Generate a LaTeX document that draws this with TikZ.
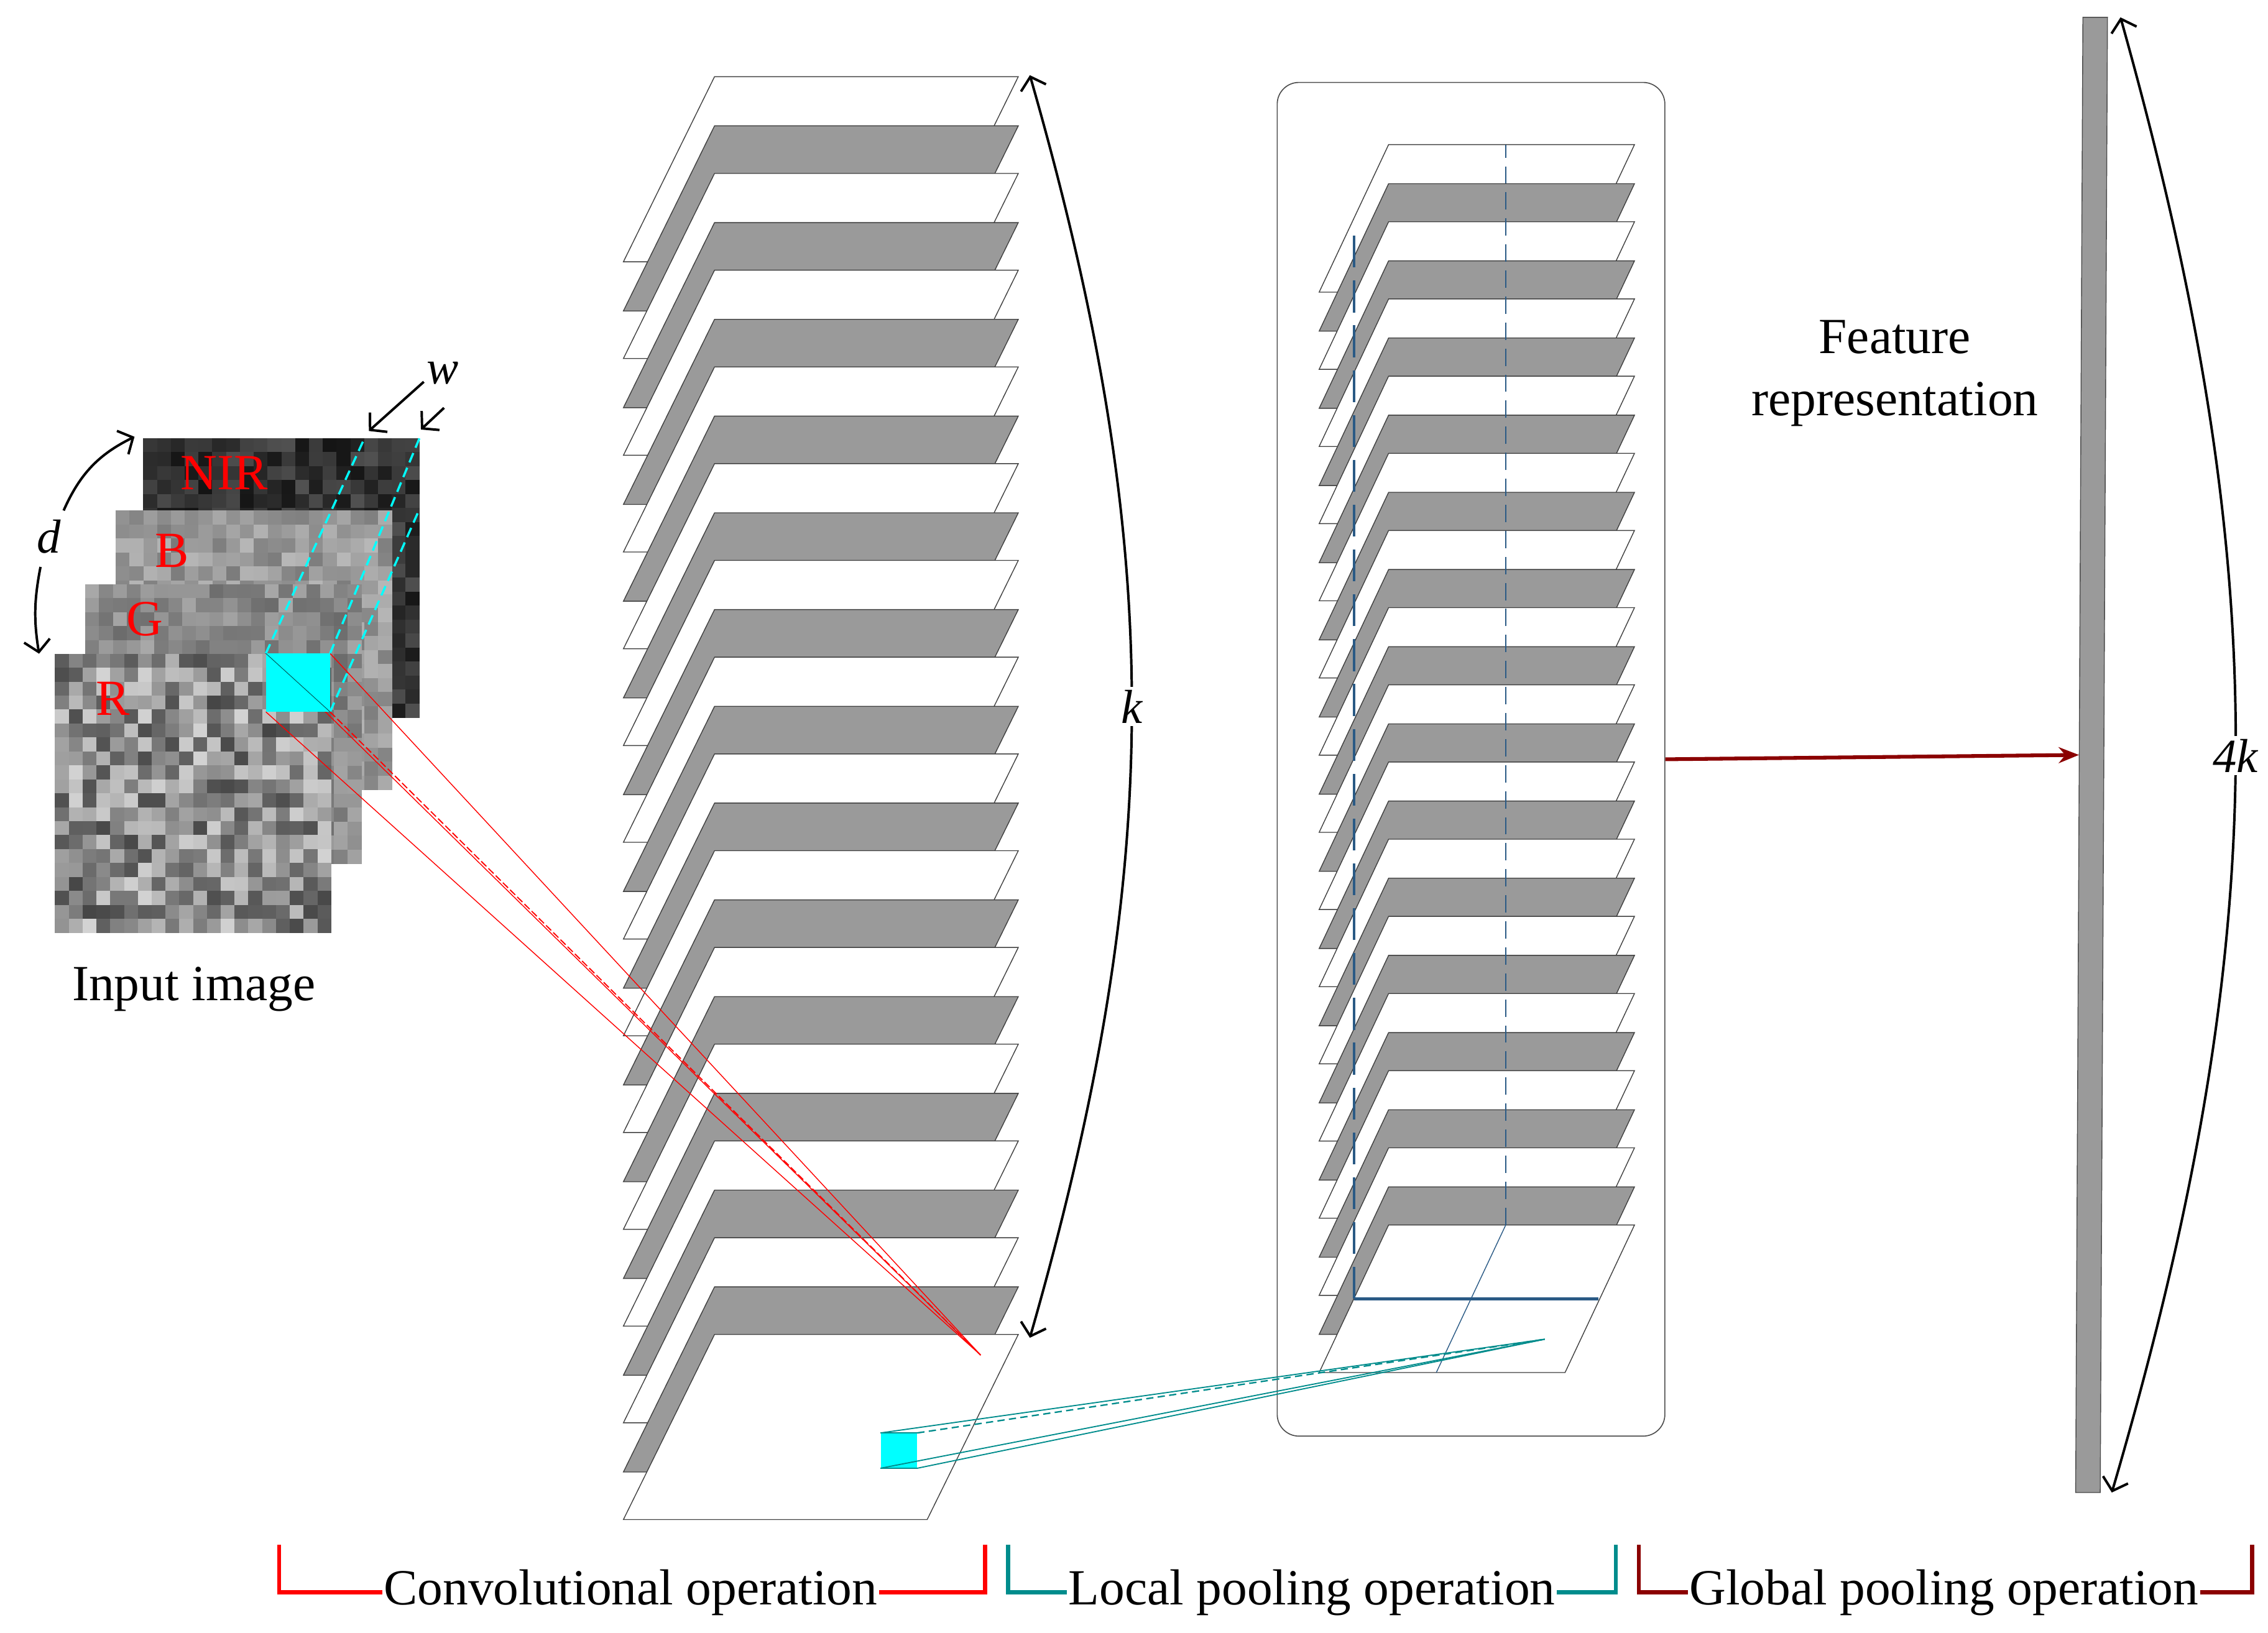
\documentclass[tikz,border=0pt]{standalone}
\usepackage{fontspec}
\setmainfont{Liberation Serif}
\usetikzlibrary{arrows.meta}
\definecolor{sheetgray}{HTML}{9A9A9A}
\definecolor{tealc}{HTML}{008C8C}
\definecolor{dred}{HTML}{8B0000}
\definecolor{pblue}{HTML}{2A5A85}
\definecolor{cy}{HTML}{00FFFF}
\begin{document}
\begin{tikzpicture}[x=1pt,y=-1pt,
  sheet/.style={draw=black!75,line width=0.6pt},
  lbl/.style={font=\fontsize{35}{43}\selectfont, inner sep=1pt},
  ilbl/.style={font=\fontsize{33}{35}\selectfont\itshape, inner sep=2pt, fill=white},
  dim/.style={black,line width=1.7pt,{Straight Barb[length=8pt,width=18pt]}-{Straight Barb[length=8pt,width=18pt]}},
  dimone/.style={black,line width=1.7pt,-{Straight Barb[length=8pt,width=18pt]}},
  brk/.style={line width=2.8pt}]
\useasboundingbox (0,0) rectangle (1568,1129);
% ---------- input image layers ----------
\pgfmathsetseed{7}
\foreach \X/\Y/\base/\amp in {99/303/80/12, 80/353/40/12, 59/404/46/12, 38/452/45/28}{
  \foreach \i in {0,...,19}{
    \foreach \j in {0,...,19}{
      \pgfmathsetmacro\v{max(3,min(95,\base+\amp*rand))}
      \fill[black!\v] (\X+\i*9.55,\Y+\j*9.65) rectangle +(9.8,9.9);
    }}}
\node[text=red,lbl] (nir) at (155,327) {NIR};
\node[text=red,lbl] (b) at (119,381) {B};
\node[text=red,lbl] (g) at (100,428) {G};
\node[text=red,lbl] (r) at (78,483) {R};
\node[lbl] (input) at (134,684) {Input image};
% cyan kernel
\node[fill=cy,minimum width=44pt,minimum height=40pt,inner sep=0pt] (cbox) at (206,472) {};
\coordinate (n1) at (252,303);
\coordinate (n2) at (290,303);
\coordinate (n3) at (290,352);
\draw[cy,line width=1.5pt,dash pattern=on 7pt off 4pt] (cbox.north west) -- (n1);
\draw[cy,line width=1.5pt,dash pattern=on 7pt off 4pt] (cbox.north east) -- (n2);
\draw[cy,line width=1.5pt,dash pattern=on 7pt off 4pt] (cbox.south east) -- (n3);
% d and w arrows
\node[ilbl,fill=none] (d) at (34,371) {d};
\coordinate (d1) at (93,302);
\coordinate (d2) at (27,452);
\draw[dimone] (44,353) to[bend left=20] (d1);
\draw[dimone] (28,392) to[bend right=10] (d2);
\node[ilbl,fill=none] (w) at (306,258) {w};
\coordinate (w1) at (255,298);
\coordinate (w2) at (291,297);
\draw[dimone] (293,264) -- (w1);
\draw[dimone] (307,282) -- (w2);
% ---------- convolution stack ----------
\foreach \i in {0,...,26}{
  \pgfmathtruncatemacro\p{int(\i/2)}
  \pgfmathtruncatemacro\od{mod(\i,2)}
  \pgfmathsetmacro\yt{53+\p*66.9+\od*34}
  \ifnum\od=1 \def\fc{sheetgray}\else\def\fc{white}\fi
  \filldraw[sheet,fill=\fc] (494,\yt) -- (704,\yt) -- (641,\yt+128) -- (431,\yt+128) -- cycle;
}
\coordinate (rt) at (678,937);
\draw[red,line width=0.6pt] (cbox.north west) -- (rt);
\draw[red,line width=0.6pt] (cbox.north east) -- (rt);
\draw[red,line width=0.6pt] (cbox.south west) -- (rt);
\draw[red,line width=0.8pt,dash pattern=on 5pt off 2pt] (cbox.south east) -- (rt);
\fill[cy] (cbox.north west) rectangle (cbox.south east);
\draw[tealc!60!black,line width=0.4pt] (cbox.north west) -- (cbox.south east);
% k arrow
\coordinate (k1) at (712,52);
\coordinate (k2) at (712,925);
\draw[dim] (k1) to[bend left=16] node[ilbl] (k) {k} (k2);
% ---------- local pooling ----------
\node[draw=black!70,line width=0.7pt,rounded corners=15pt,minimum width=268pt,minimum height=936pt,inner sep=0pt] (pool) at (1017,525) {};
\foreach \i in {0,...,28}{
  \pgfmathtruncatemacro\p{int(\i/2)}
  \pgfmathtruncatemacro\od{mod(\i,2)}
  \pgfmathsetmacro\yt{100+\p*53.36+\od*27}
  \ifnum\od=1 \def\fc{sheetgray}\else\def\fc{white}\fi
  \filldraw[sheet,fill=\fc] (960,\yt) -- (1130,\yt) -- (1082,\yt+102) -- (912,\yt+102) -- cycle;
}
\draw[pblue,line width=0.6pt] (1041,847) -- (993,949);
\draw[pblue,line width=1.8pt,dash pattern=on 22pt off 9pt] (936,898) -- (936,155);
\draw[pblue,line width=1.1pt,dash pattern=on 12pt off 6pt] (1041,847) -- (1041,100);
\draw[pblue,line width=2.2pt] (936,898) -- (1105,898);
% teal projection
\node[fill=cy,minimum width=25pt,minimum height=24pt,inner sep=0pt] (tbox) at (621.5,1003) {};
\coordinate (pt) at (1068,926);
\draw[tealc,line width=0.8pt] (tbox.north west) -- (pt);
\draw[tealc,line width=0.8pt] (tbox.south west) -- (pt);
\draw[tealc,line width=0.8pt] (tbox.south east) -- (pt);
\draw[tealc,line width=1pt,dash pattern=on 5pt off 3pt] (tbox.north east) -- (pt);
\draw[tealc,line width=0.6pt] (tbox.north west) -- (tbox.north east) (tbox.south west) -- (tbox.south east);
% ---------- global pooling ----------
\filldraw[draw=black!70,fill=sheetgray,line width=0.6pt] (1440,12) -- (1457,12) -- (1452,1032) -- (1435,1032) -- cycle;
\node[inner sep=0pt,minimum width=17pt,minimum height=1020pt] (bar) at (1446,522) {};
\draw[dred,line width=2.6pt,-{Stealth[length=14pt,width=11pt]}] (pool.east) -- (bar.west);
\coordinate (f1) at (1466,12);
\coordinate (f2) at (1460,1032);
\draw[dim] (f1) to[bend left=16] node[ilbl] (fk) {4k} (f2);
\node[lbl,align=center] (feat) at (1310,258) {Feature\\representation};
% ---------- bottom brackets ----------
\node[lbl] (conv) at (436,1101) {Convolutional operation};
\node[lbl] (loc) at (907,1101) {Local pooling operation};
\node[lbl] (glob) at (1344,1101) {Global pooling operation};
\draw[brk,red] (conv.west) -- (193,1101) -- (193,1068);
\draw[brk,red] (conv.east) -- (681,1101) -- (681,1068);
\draw[brk,tealc] (loc.west) -- (697,1101) -- (697,1068);
\draw[brk,tealc] (loc.east) -- (1117,1101) -- (1117,1068);
\draw[brk,dred] (glob.west) -- (1133,1101) -- (1133,1068);
\draw[brk,dred] (glob.east) -- (1557,1101) -- (1557,1068);
\end{tikzpicture}
\end{document}
